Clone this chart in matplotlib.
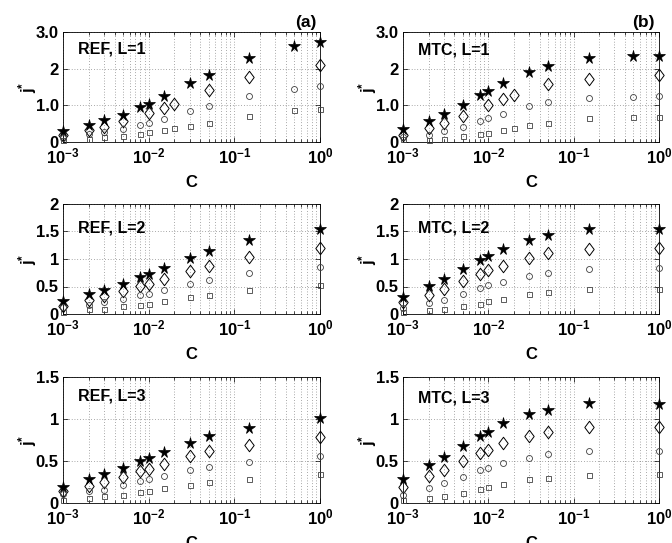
import numpy as np
import matplotlib
matplotlib.use('Agg')
import matplotlib.pyplot as plt
from matplotlib.path import Path

nan = np.nan

# concentration values shared by all panels
C = [1e-3, 2e-3, 3e-3, 5e-3, 8e-3, 1e-2, 1.5e-2, 2e-2, 3e-2, 5e-2, 0.15, 0.5, 1.0]

# REF, L=1
ref1_star = [0.29, 0.47, 0.60, 0.75, 0.96, 1.05, 1.26, nan, 1.61, 1.83, 2.29, 2.61, 2.72]
ref1_diam = [0.18, 0.33, 0.42, 0.57, nan, 0.80, 0.94, 1.04, nan, 1.41, 1.77, nan, 2.10]
ref1_circ = [0.12, 0.22, 0.27, 0.36, 0.46, 0.52, 0.64, nan, 0.84, 0.98, 1.26, 1.45, 1.52]
ref1_sq = [0.06, 0.09, 0.13, 0.17, 0.22, 0.26, 0.32, 0.37, 0.44, 0.52, 0.72, 0.86, 0.90]

# MTC, L=1
mtc1_star = [0.35, 0.58, 0.76, 1.01, 1.27, 1.40, 1.60, nan, 1.91, 2.07, 2.28, 2.35, 2.35]
mtc1_diam = [0.20, 0.39, 0.53, 0.72, nan, 1.00, 1.18, 1.29, nan, 1.57, 1.73, nan, 1.82]
mtc1_circ = [0.15, 0.20, 0.29, 0.41, 0.57, 0.65, 0.77, nan, 0.97, 1.08, 1.20, 1.24, 1.26]
mtc1_sq = [0.07, 0.06, 0.09, 0.16, 0.23, 0.25, 0.34, 0.39, 0.47, 0.53, 0.65, 0.67, 0.69]

# REF, L=2
ref2_star = [0.23, 0.36, 0.43, 0.55, 0.67, 0.73, 0.84, nan, 1.02, 1.15, 1.35, nan, 1.54]
ref2_diam = [0.15, 0.26, 0.32, 0.42, 0.51, 0.55, 0.64, nan, 0.78, 0.88, 1.03, nan, 1.20]
ref2_circ = [0.12, 0.16, 0.22, 0.27, 0.34, 0.37, 0.44, nan, 0.55, 0.62, 0.74, nan, 0.85]
ref2_sq = [0.04, 0.09, 0.10, 0.14, 0.17, 0.19, 0.23, nan, 0.31, 0.35, 0.44, nan, 0.52]

# MTC, L=2
mtc2_star = [0.31, 0.51, 0.64, 0.82, 0.98, 1.05, 1.18, nan, 1.35, 1.44, 1.54, nan, 1.55]
mtc2_diam = [0.21, 0.35, 0.46, 0.60, 0.73, 0.80, 0.88, nan, 1.01, 1.10, 1.18, nan, 1.20]
mtc2_circ = [0.11, 0.20, 0.26, 0.37, 0.48, 0.52, 0.59, nan, 0.70, 0.75, 0.82, nan, 0.84]
mtc2_sq = [0.04, 0.07, 0.09, 0.14, 0.19, 0.23, 0.28, nan, 0.36, 0.40, 0.46, nan, 0.46]

# REF, L=3
ref3_star = [0.19, 0.28, 0.34, 0.42, 0.50, 0.54, 0.61, nan, 0.72, 0.80, 0.89, nan, 1.01]
ref3_diam = [0.14, 0.20, 0.25, 0.31, 0.38, 0.41, 0.47, nan, 0.56, 0.62, 0.69, nan, 0.79]
ref3_circ = [0.11, 0.14, 0.16, 0.21, 0.26, 0.28, 0.32, nan, 0.39, 0.43, 0.49, nan, 0.56]
ref3_sq = [0.04, 0.06, 0.08, 0.10, 0.13, 0.14, 0.18, nan, 0.22, 0.25, 0.29, nan, 0.34]

# MTC, L=3
mtc3_star = [0.29, 0.45, 0.55, 0.68, 0.80, 0.85, 0.95, nan, 1.06, 1.11, 1.19, nan, 1.18]
mtc3_diam = [0.19, 0.32, 0.39, 0.50, 0.60, 0.63, 0.71, nan, 0.80, 0.85, 0.90, nan, 0.90]
mtc3_circ = [0.10, 0.18, 0.24, 0.31, 0.39, 0.42, 0.48, nan, 0.54, 0.58, 0.62, nan, 0.62]
mtc3_sq = [0.03, 0.06, 0.08, 0.12, 0.17, 0.19, 0.23, nan, 0.28, 0.30, 0.33, nan, 0.34]

panel_labels = [['REF, L=1', 'MTC, L=1'],
                ['REF, L=2', 'MTC, L=2'],
                ['REF, L=3', 'MTC, L=3']]
row_yticks = [[0, 1, 2, 3], [0, 0.5, 1, 1.5, 2], [0, 0.5, 1, 1.5]]
row_yticklabels = [['0', '1.0', '2', '3.0'],
                   ['0', '0.5', '1', '1.5', '2'],
                   ['0', '0.5', '1', '1.5']]
col_tags = ['(a)', '(b)']


def main():
    plt.rcParams['font.family'] = ['Liberation Sans', 'DejaVu Sans']
    plt.rcParams['font.weight'] = 'bold'
    plt.rcParams['mathtext.fontset'] = 'custom'
    plt.rcParams['mathtext.bf'] = 'Liberation Sans:bold'
    plt.rcParams['mathtext.rm'] = 'Liberation Sans:bold'
    plt.rcParams['mathtext.default'] = 'bf'

    W, H = 672, 543
    fig = plt.figure(figsize=(W / 100, H / 100), dpi=100)

    # pixel boxes of the panels
    cols = [(63, 320), (403, 659)]
    rows = [(32, 142), (204, 314), (377, 503)]
    text_y = [[0.85, 0.835], [0.785, 0.78], [0.85, 0.83]]

    data = [[(ref1_star, ref1_diam, ref1_circ, ref1_sq), (mtc1_star, mtc1_diam, mtc1_circ, mtc1_sq)],
            [(ref2_star, ref2_diam, ref2_circ, ref2_sq), (mtc2_star, mtc2_diam, mtc2_circ, mtc2_sq)],
            [(ref3_star, ref3_diam, ref3_circ, ref3_sq), (mtc3_star, mtc3_diam, mtc3_circ, mtc3_sq)]]

    # tall open diamond
    diamond = Path([(0, 1), (0.75, 0), (0, -1), (-0.75, 0), (0, 1)], closed=True)
    dots = (0, (1, 3))

    for r, (y0, y1) in enumerate(rows):
        for c, (x0, x1) in enumerate(cols):
            ax = fig.add_axes([x0 / W, 1 - y1 / H, (x1 - x0) / W, (y1 - y0) / H])
            star, diam, circ, sq = data[r][c]

            ax.plot(C, star, linestyle='none', marker='*', ms=8.5, mfc='black', mec='black',
                    mew=0.5, clip_on=False, zorder=4)
            ax.plot(C, diam, linestyle='none', marker=diamond, ms=9, mfc='none', mec='black',
                    mew=0.7, clip_on=False, zorder=4)
            ax.plot(C, circ, linestyle='none', marker='o', ms=4.3, mfc='none', mec='0.25',
                    mew=0.6, clip_on=False, zorder=4)
            ax.plot(C, sq, linestyle='none', marker='s', ms=3.6, mfc='none', mec='0.25',
                    mew=0.6, clip_on=False, zorder=4)

            ax.set_xscale('log')
            ax.set_xlim(1e-3, 1)
            ax.set_ylim(0, row_yticks[r][-1])
            ax.set_xticks([1e-3, 1e-2, 1e-1, 1])
            ax.set_yticks(row_yticks[r])
            ax.set_yticklabels(row_yticklabels[r])

            ax.grid(True, which='both', axis='x', linestyle=dots, color='0.35', lw=0.5)
            ax.grid(True, which='major', axis='y', linestyle=dots, color='0.35', lw=0.5)
            ax.set_axisbelow(True)

            ax.tick_params(which='both', direction='in', top=True, right=True,
                           labelsize=12, width=0.5)
            ax.tick_params(which='major', length=3.5, pad=3)
            ax.tick_params(which='minor', length=2)
            for s in ax.spines.values():
                s.set_linewidth(0.6)

            ax.set_xlabel('C', fontsize=12, fontweight='bold')
            ax.xaxis.set_label_coords(0.5, -33 / (y1 - y0))
            ax.set_ylabel(r'j$^{*}$', fontsize=12, fontweight='bold')
            ax.yaxis.set_label_coords(-0.095, 0.5)

            ax.text(0.06, text_y[r][c], panel_labels[r][c], transform=ax.transAxes,
                    fontsize=11.5, fontweight='bold', ha='left', va='center')

            if r == 0:
                fig.text((x1 - 4) / W, 1 - 30 / H, col_tags[c], fontsize=12.5,
                         fontweight='bold', ha='right', va='bottom')

    fig.savefig('out.png', dpi=100)


if __name__ == "__main__":
    main()
